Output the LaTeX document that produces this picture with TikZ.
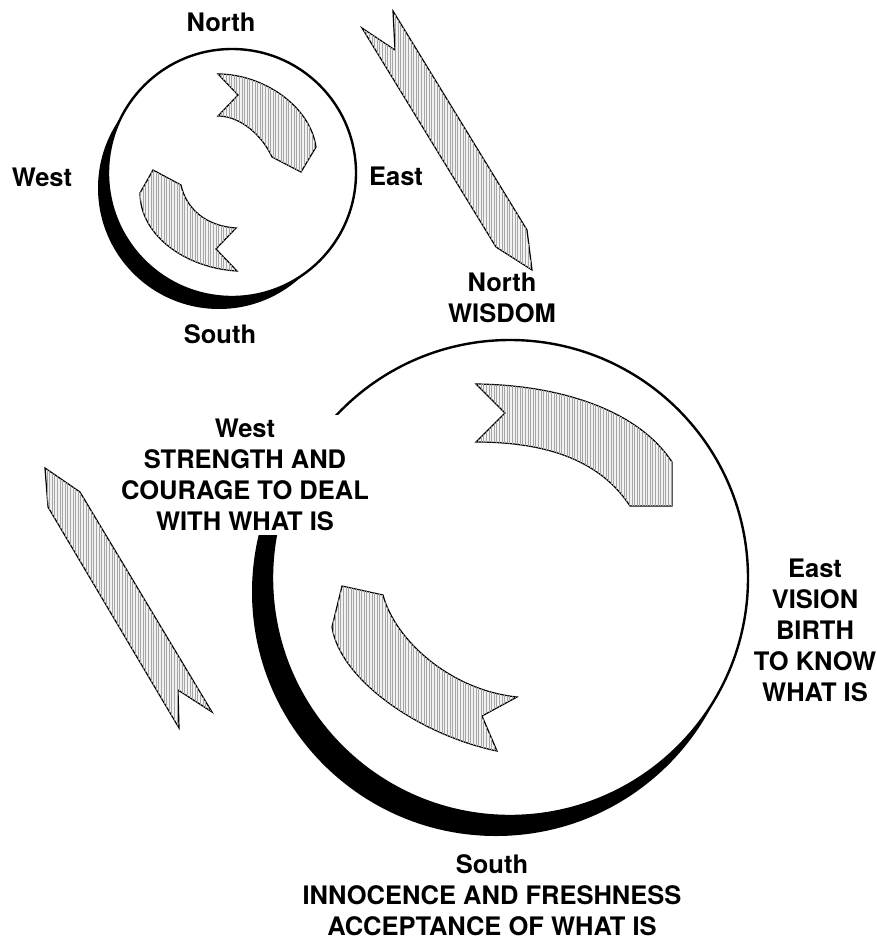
\documentclass[tikz,border=0pt]{standalone}
\usepackage{fontspec}
\setmainfont{TeX Gyre Heros}
\usetikzlibrary{patterns.meta}
\begin{document}
\begin{tikzpicture}[x=1pt,y=-1pt,
  lbl/.style={font=\fontsize{25.5}{31}\selectfont\bfseries, align=center, inner sep=0pt},
  band/.style={draw=black, line width=1.2pt, line join=miter, fill=gray!10,
    postaction={pattern={Lines[angle=90,distance=2.6pt,line width=0.5pt]}, pattern color=black!35}},
  ring/.style={draw=black, line width=2.4pt, fill=white},
  shade/.style={fill=black}]
\useasboundingbox (0,0) rectangle (876,942);
\fill[white] (0,0) rectangle (876,942);

% ---------- small circle ----------
\fill[shade] (219,188) circle[radius=121pt];
\draw[ring] (232,173) circle[radius=124pt];
\draw[band] (218,74) .. controls (262,74) and (310,105) .. (316,147) -- (301,172) -- (272,157)
  .. controls (262,135) and (240,116) .. (218,116) -- (238,95) -- cycle;
\draw[band] (153,170) -- (181,185) .. controls (186,208) and (205,226) .. (236,228) -- (216,249) -- (237,271)
  .. controls (185,268) and (140,235) .. (140,193) -- cycle;
\node[lbl] (sN) at (221,22) {North};
\node[lbl] (sW) at (42,177) {West};
\node[lbl] (sE) at (396,176) {East};
\node[lbl] (sS) at (220,334) {South};

% ---------- diagonal bars ----------
\draw[band] (362,28) -- (395,50) -- (393,11) -- (527,230) -- (532,270) -- (496,247) -- cycle;
\draw[band] (45,468) -- (80,492) -- (212,712) -- (178,690) -- (179,728) -- (48,507) -- cycle;

% ---------- big circle ----------
\begin{scope}
  \clip (0,535) rectangle (876,942);
  \fill[shade] (496,592) circle[radius=244pt];
\end{scope}
\draw[ring] (510,578) circle[radius=238pt];
\draw[band] (476,384) .. controls (560,385) and (638,410) .. (672,462) -- (672,506) -- (630,506)
  .. controls (605,468) and (560,442) .. (476,442) -- (505,413) -- cycle;
\draw[band] (342,586) -- (383,595) .. controls (395,640) and (450,690) .. (517,697) -- (482,716) -- (497,751)
  .. controls (420,735) and (340,680) .. (332,627) -- cycle;

% West label covers part of the big circle
\fill[white] (116,415) rectangle (374,535);
\node[lbl] (bW) at (245,475) {West\\STRENGTH AND\\COURAGE TO DEAL\\WITH WHAT IS};
\node[lbl] (bN) at (502,298) {North\\WISDOM};
\node[lbl] (bE) at (815,630) {East\\VISION\\BIRTH\\TO KNOW\\WHAT IS};
\node[lbl] (bS) at (492,895) {South\\INNOCENCE AND FRESHNESS\\ACCEPTANCE OF WHAT IS};
\end{tikzpicture}
\end{document}
